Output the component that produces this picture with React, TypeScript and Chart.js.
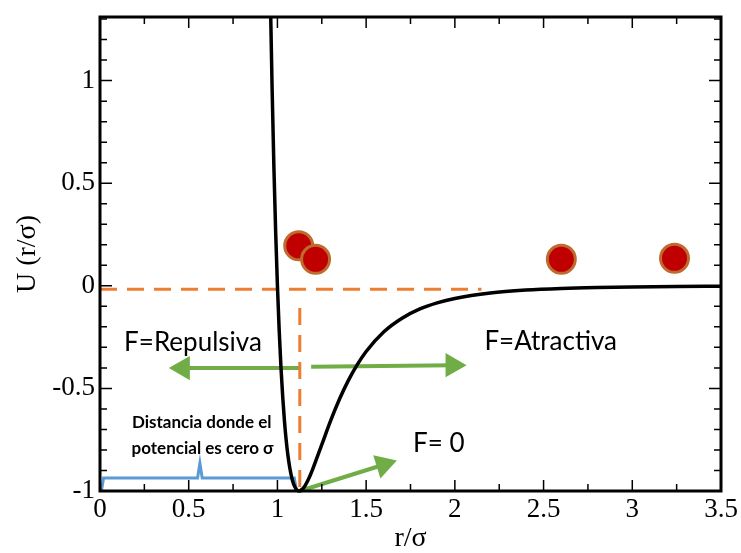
import React, { useEffect, useRef } from 'react';
import { Chart, registerables } from 'chart.js';

Chart.register(...registerables);

// Lennard-Jones potential curve
const rValues = [0.96, 0.97, 0.98, 0.99, 1.0, 1.01, 1.02, 1.03, 1.04, 1.05, 1.06, 1.07, 1.08, 1.09, 1.1, 1.11, 1.122, 1.13, 1.15, 1.18, 1.2, 1.25, 1.3, 1.35, 1.4, 1.45, 1.5, 1.6, 1.7, 1.8, 1.9, 2.0, 2.2, 2.4, 2.6, 2.8, 3.0, 3.25, 3.5];
const uValues = [1.418, 0.963, 0.582, 0.264, 0.0, -0.218, -0.398, -0.544, -0.663, -0.758, -0.832, -0.889, -0.932, -0.963, -0.983, -0.995, -1.0, -0.998, -0.982, -0.933, -0.891, -0.774, -0.657, -0.552, -0.461, -0.384, -0.32, -0.224, -0.159, -0.114, -0.0832, -0.0615, -0.035, -0.0208, -0.0129, -0.0083, -0.0055, -0.0034, -0.0022];

// red particles
const particleR = [1.12, 1.215, 2.6, 3.238];
const particleU = [0.195, 0.129, 0.129, 0.134];

// axis ticks
const xTicks = [0, 0.5, 1, 1.5, 2, 2.5, 3, 3.5];
const xTickLabels = ['0', '0.5', '1', '1.5', '2', '2.5', '3', '3.5'];
const yTicks = [-1, -0.5, 0, 0.5, 1];
const yTickLabels = ['-1', '-0.5', '0', '0.5', '1'];

// dashed reference lines
const zeroLineR = [0, 2.15];
const zeroLineU = [-0.017, -0.017];
const sigmaLineR = [1.126, 1.126];
const sigmaLineU = [-0.108, -1.0];

// green arrows (start, head)
const repulsiveArrowR = [1.126, 0.467];
const repulsiveArrowU = [-0.401, -0.401];
const attractiveArrowR = [1.19, 1.987];
const attractiveArrowU = [-0.395, -0.387];
const equilibriumArrowR = [1.126, 1.598];
const equilibriumArrowU = [-1.0, -0.872];

// blue bracket
const bracketR = [0.008, 0.02, 0.55, 0.563, 0.576, 1.095, 1.108];
const bracketU = [-1.0, -0.937, -0.937, -0.865, -0.937, -0.937, -1.0];

// annotations
const labelTexts = ['F=Repulsiva', 'F=Atractiva', 'F= 0', 'Distancia donde el', 'potencial es cero σ'];
const labelR = [0.524, 2.54, 1.909, 0.573, 0.578];
const labelU = [-0.277, -0.272, -0.769, -0.667, -0.793];

const toPoints = (xs: number[], ys: number[]) => xs.map((x, i) => ({ x, y: ys[i] }));

const labelStyles = [
  { font: '26px Lato', color: '#000' },
  { font: '26px Lato', color: '#000' },
  { font: '26px Lato', color: '#000' },
  { font: 'bold 17px Lato', color: '#000' },
  { font: 'bold 17px Lato', color: '#000' },
];

const framePlugin = {
  id: 'frameTicks',
  afterDatasetsDraw(chart: any) {
    const { ctx, chartArea } = chart;
    const xs = chart.scales.x;
    const ys = chart.scales.y;
    const { left, right, top, bottom } = chartArea;
    ctx.save();
    ctx.strokeStyle = '#000';
    ctx.lineWidth = 1.5;
    const drawX = (v: number, len: number) => {
      const px = xs.getPixelForValue(v);
      ctx.beginPath();
      ctx.moveTo(px, bottom);
      ctx.lineTo(px, bottom - len);
      ctx.moveTo(px, top);
      ctx.lineTo(px, top + len);
      ctx.stroke();
    };
    const drawY = (v: number, len: number) => {
      const py = ys.getPixelForValue(v);
      ctx.beginPath();
      ctx.moveTo(left, py);
      ctx.lineTo(left + len, py);
      ctx.moveTo(right, py);
      ctx.lineTo(right - len, py);
      ctx.stroke();
    };
    for (let i = 0; i <= 14; i++) {
      if (i % 2 === 1) drawX(i * 0.25, 7);
    }
    xTicks.forEach((v) => drawX(v, 11));
    for (let i = -10; i <= 13; i++) {
      if (i % 5 !== 0) drawY(i / 10, 7);
    }
    yTicks.forEach((v) => drawY(v, 12));
    ctx.lineWidth = 3;
    ctx.strokeRect(left, top, right - left, bottom - top);
    ctx.restore();
  },
  afterDraw(chart: any) {
    const { ctx } = chart;
    const xs = chart.scales.x;
    const ys = chart.scales.y;
    ctx.save();
    ctx.textAlign = 'center';
    ctx.textBaseline = 'middle';
    labelTexts.forEach((t, i) => {
      ctx.font = labelStyles[i].font;
      ctx.fillStyle = labelStyles[i].color;
      ctx.fillText(t, xs.getPixelForValue(labelR[i]), ys.getPixelForValue(labelU[i]));
    });
    ctx.restore();
  },
};

export default function App() {
  const ref = useRef<HTMLCanvasElement>(null);
  useEffect(() => {
    document.body.style.margin = '0';
    const lineBase = { showLine: true, pointRadius: 0, fill: false };
    const arrowBase = {
      ...lineBase,
      borderColor: '#70AD47',
      backgroundColor: '#70AD47',
      borderWidth: 4,
      pointRadius: [0, 10],
      pointStyle: 'triangle',
      clip: 4,
    };
    const chart = new Chart(ref.current as HTMLCanvasElement, {
      type: 'scatter',
      data: {
        datasets: [
          {
            ...lineBase,
            data: toPoints(rValues, uValues),
            borderColor: '#000',
            borderWidth: 3.5,
            cubicInterpolationMode: 'monotone',
            clip: { left: 0, top: 0, right: 0, bottom: 4 },
          } as any,
          {
            ...lineBase,
            data: toPoints(zeroLineR, zeroLineU),
            borderColor: '#ED7D31',
            borderWidth: 3,
            borderDash: [17, 10],
          },
          {
            ...lineBase,
            data: toPoints(sigmaLineR, sigmaLineU),
            borderColor: '#ED7D31',
            borderWidth: 3,
            borderDash: [17, 10],
          },
          {
            ...lineBase,
            data: toPoints(bracketR, bracketU),
            borderColor: '#5B9BD5',
            borderWidth: 3,
            clip: 4,
          } as any,
          { ...arrowBase, data: toPoints(repulsiveArrowR, repulsiveArrowU), rotation: [0, 270] } as any,
          { ...arrowBase, data: toPoints(attractiveArrowR, attractiveArrowU), rotation: [0, 90] } as any,
          { ...arrowBase, data: toPoints(equilibriumArrowR, equilibriumArrowU), rotation: [0, 72.7] } as any,
          {
            data: toPoints(particleR, particleU),
            showLine: false,
            pointRadius: 14,
            pointHoverRadius: 14,
            backgroundColor: '#C00000',
            borderColor: '#BF6A2E',
            borderWidth: 3,
          },
        ],
      },
      options: {
        animation: false,
        responsive: false,
        events: [],
        layout: { padding: { top: 12, right: 20, left: 0, bottom: 0 } },
        plugins: { legend: { display: false }, tooltip: { enabled: false } },
        scales: {
          x: {
            type: 'linear',
            min: 0,
            max: 3.5,
            grid: { display: false, drawTicks: false },
            border: { display: false },
            afterBuildTicks: (s: any) => {
              s.ticks = xTicks.map((v) => ({ value: v }));
            },
            afterFit: (s: any) => {
              s.height = 62;
              s.paddingLeft = 0;
              s.paddingRight = 0;
            },
            ticks: {
              autoSkip: false,
              maxRotation: 0,
              padding: 3,
              color: '#000',
              font: { family: 'Liberation Serif', size: 27 },
              callback: (v: any) => xTickLabels[xTicks.indexOf(Number(v))] ?? '',
            },
            title: {
              display: true,
              text: 'r/σ',
              color: '#000',
              font: { family: 'Liberation Serif', size: 28, lineHeight: 1 },
              padding: { top: 0, bottom: 0 },
            },
          },
          y: {
            type: 'linear',
            min: -1,
            max: 1.31,
            grid: { display: false, drawTicks: false },
            border: { display: false },
            afterBuildTicks: (s: any) => {
              s.ticks = yTicks.map((v) => ({ value: v }));
            },
            afterFit: (s: any) => {
              s.width = 100;
              s.paddingTop = 0;
              s.paddingBottom = 0;
            },
            ticks: {
              autoSkip: false,
              padding: 5,
              color: '#000',
              font: { family: 'Liberation Serif', size: 27 },
              callback: (v: any) => yTickLabels[yTicks.indexOf(Number(v))] ?? '',
            },
            title: {
              display: true,
              text: 'U (r/σ)',
              color: '#000',
              font: { family: 'Liberation Serif', size: 28, lineHeight: 1.2 },
              padding: { top: 11, bottom: 0 },
            },
          },
        },
      },
      plugins: [framePlugin],
    } as any);
    return () => chart.destroy();
  }, []);
  return (
    <div style={{ width: 741, height: 553 }}>
      <canvas ref={ref} width={741} height={553} />
    </div>
  );
}
